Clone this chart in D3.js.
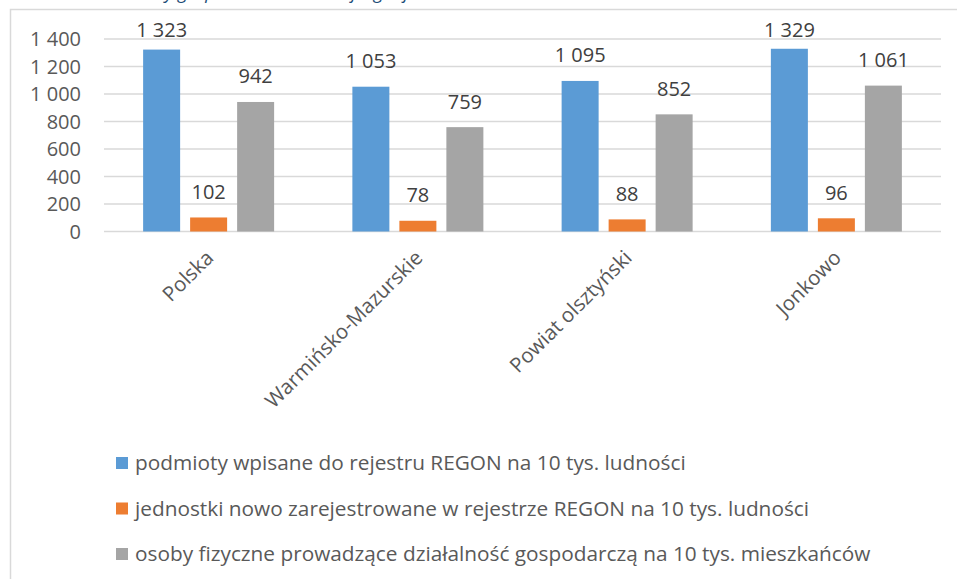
<!DOCTYPE html>
<html>
<head>
<meta charset="utf-8">
<script src="https://cdn.jsdelivr.net/npm/d3@7"></script>
<style>
  body { margin: 0; background: #fff; }
  svg { display: block; font-family: "Open Sans", sans-serif; }
</style>
</head>
<body>
<div id="chart"></div>
<script>
// dane
const categories = ["Polska", "Warmińsko-Mazurskie", "Powiat olsztyński", "Jonkowo"];
const seriesNames = [
  "podmioty wpisane do rejestru REGON na 10 tys. ludności",
  "jednostki nowo zarejestrowane w rejestrze REGON na 10 tys. ludności",
  "osoby fizyczne prowadzące działalność gospodarczą na 10 tys. mieszkańców"
];
const regon = [1323, 1053, 1095, 1329];
const noweJednostki = [102, 78, 88, 96];
const osobyFizyczne = [942, 759, 852, 1061];
const yTicks = [0, 200, 400, 600, 800, 1000, 1200, 1400];
const colors = ["#5B9BD5", "#ED7D31", "#A5A5A5"];

const width = 957, height = 579;
const plot = { left: 104, right: 941, top: 39, bottom: 231.5 };

const fmt = d3.formatLocale({ decimal: ",", thousands: " ", grouping: [3], currency: ["", " zł"] }).format(",d");

const svg = d3.select("#chart").append("svg")
  .attr("width", width)
  .attr("height", height);

// ucięty tytuł nad wykresem
svg.append("text")
  .attr("x", 98)
  .attr("y", -1.5)
  .attr("fill", "#1F4E79")
  .style("font-style", "italic")
  .style("font-size", "18px")
  .text("Podmioty gospodarki narodowej wg rejestru REGON");

// ramka obszaru wykresu
svg.append("rect")
  .attr("x", 10.5).attr("y", 9.5)
  .attr("width", 1000).attr("height", 700)
  .attr("fill", "none")
  .attr("stroke", "#D9D9D9")
  .attr("stroke-width", 1.5);

const y = d3.scaleLinear().domain([0, 1400]).range([plot.bottom, plot.top]);

const x0 = d3.scaleBand().domain(categories).range([plot.left, plot.right]);
const keys = [0, 1, 2];
const x1 = d3.scaleBand().domain(keys).range([0, x0.bandwidth()])
  .paddingInner(0.2128).paddingOuter(0.8325);

// linie siatki
svg.append("g")
  .selectAll("line")
  .data(yTicks)
  .enter().append("line")
  .attr("x1", plot.left).attr("x2", plot.right)
  .attr("y1", d => y(d)).attr("y2", d => y(d))
  .attr("stroke", "#D9D9D9")
  .attr("stroke-width", 1.5);

// etykiety osi Y
svg.append("g")
  .selectAll("text")
  .data(yTicks)
  .enter().append("text")
  .attr("x", 81)
  .attr("y", d => y(d))
  .attr("dy", "0.36em")
  .attr("text-anchor", "end")
  .attr("fill", "#595959")
  .style("font-size", "20px")
  .text(d => fmt(d));

const rows = categories.map((c, i) => ({
  cat: c,
  values: [regon[i], noweJednostki[i], osobyFizyczne[i]]
}));

const group = svg.append("g")
  .selectAll("g")
  .data(rows)
  .enter().append("g")
  .attr("transform", d => `translate(${x0(d.cat)},0)`);

group.selectAll("rect")
  .data(d => d.values.map((v, k) => ({ k, v })))
  .enter().append("rect")
  .attr("x", d => x1(d.k))
  .attr("width", x1.bandwidth())
  .attr("y", d => y(d.v))
  .attr("height", d => y(0) - y(d.v))
  .attr("fill", d => colors[d.k]);

// etykiety wartości
group.selectAll("text")
  .data(d => d.values.map((v, k) => ({ k, v })))
  .enter().append("text")
  .attr("x", d => x1(d.k) + x1.bandwidth() / 2)
  .attr("y", d => Math.max(y(d.v) - 18.5, 37))
  .attr("text-anchor", "middle")
  .attr("fill", "#404040")
  .style("font-size", "20px")
  .text(d => fmt(d.v));

// etykiety kategorii
svg.append("g")
  .selectAll("text")
  .data(categories)
  .enter().append("text")
  .attr("transform", d => `translate(${x0(d) + x0.bandwidth() / 2 + 1},254) rotate(-45)`)
  .attr("text-anchor", "end")
  .attr("dy", "0.35em")
  .attr("fill", "#595959")
  .style("font-size", "20.5px")
  .text(d => d);

// legenda
const legend = svg.append("g")
  .selectAll("g")
  .data(seriesNames)
  .enter().append("g")
  .attr("transform", (d, i) => `translate(116,${463 + i * 45.5})`);

legend.append("rect")
  .attr("x", 0).attr("y", -6)
  .attr("width", 12).attr("height", 12)
  .attr("fill", (d, i) => colors[i]);

legend.append("text")
  .attr("x", 19)
  .attr("dy", "0.35em")
  .attr("fill", "#595959")
  .style("font-size", "20.8px")
  .text(d => d);
</script>
</body>
</html>
